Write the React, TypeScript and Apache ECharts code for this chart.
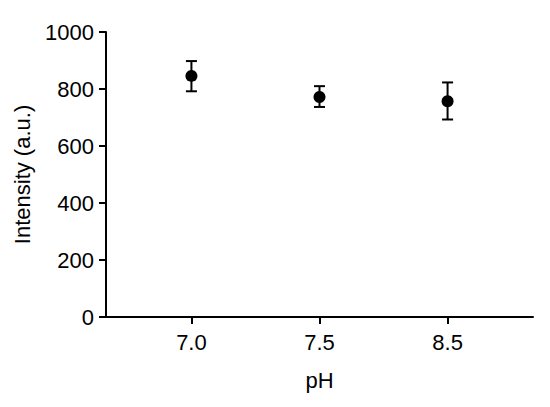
import React, { useEffect, useRef } from "react";
import * as echarts from "echarts";

const categories = ["7.0", "7.5", "8.5"];
const means = [846, 772, 757];
const lower = [792, 737, 693];
const upper = [898, 810, 823];
const yTicks = [0, 200, 400, 600, 800, 1000];

const FONT = "'Liberation Sans', Arial, sans-serif";
const INK = "#000";

export default function App() {
  const ref = useRef<HTMLDivElement>(null);
  useEffect(() => {
    if (!ref.current) return;
    const chart = echarts.init(ref.current, undefined, { renderer: "svg" });
    const idx = categories.map((_, i) => i);
    const option = {
      animation: false,
      backgroundColor: "#ffffff",
      grid: { left: 106, top: 32, right: 17, bottom: 90, containLabel: false },
      xAxis: {
        type: "value",
        min: -0.667,
        max: 2.667,
        name: "pH",
        nameLocation: "middle",
        nameGap: 52,
        nameTextStyle: { fontFamily: FONT, fontSize: 22, color: INK },
        splitLine: { show: false },
        axisLine: { show: true, onZero: false, lineStyle: { color: INK, width: 2 } },
        axisTick: {
          show: true,
          customValues: idx,
          length: 7,
          inside: false,
          lineStyle: { color: INK, width: 2 },
        },
        axisLabel: {
          customValues: idx,
          margin: 14,
          fontFamily: FONT,
          fontSize: 22,
          color: INK,
          formatter: (v: number) => categories[Math.round(v)] ?? "",
        },
      },
      yAxis: {
        type: "value",
        min: 0,
        max: 1000,
        interval: 200,
        name: "Intensity (a.u.)",
        nameLocation: "middle",
        nameGap: 73,
        nameTextStyle: { fontFamily: FONT, fontSize: 22, color: INK },
        splitLine: { show: false },
        axisLine: { show: true, onZero: false, lineStyle: { color: INK, width: 2 } },
        axisTick: { show: true, length: 7, lineStyle: { color: INK, width: 2 } },
        axisLabel: {
          margin: 12,
          fontFamily: FONT,
          fontSize: 22,
          color: INK,
          formatter: (v: number) => (yTicks.includes(v) ? String(v) : ""),
        },
      },
      series: [
        {
          type: "custom",
          data: idx.map((i) => [i, lower[i], upper[i]]),
          renderItem: (params: any, api: any) => {
            const x = api.value(0);
            const lo = api.coord([x, api.value(1)]);
            const hi = api.coord([x, api.value(2)]);
            const hw = 5.5;
            const style = { stroke: INK, lineWidth: 2, fill: "none" };
            return {
              type: "group",
              children: [
                { type: "line", shape: { x1: lo[0], y1: lo[1], x2: hi[0], y2: hi[1] }, style },
                { type: "line", shape: { x1: hi[0] - hw, y1: hi[1], x2: hi[0] + hw, y2: hi[1] }, style },
                { type: "line", shape: { x1: lo[0] - hw, y1: lo[1], x2: lo[0] + hw, y2: lo[1] }, style },
              ],
            };
          },
          z: 2,
        },
        {
          type: "scatter",
          data: idx.map((i) => [i, means[i]]),
          symbol: "circle",
          symbolSize: 12,
          itemStyle: { color: INK, opacity: 1 },
          z: 3,
        },
      ],
    };
    chart.setOption(option as any);
    return () => chart.dispose();
  }, []);
  return (
    <div
      ref={ref}
      style={{ position: "fixed", left: 0, top: 0, width: 550, height: 407 }}
    />
  );
}
